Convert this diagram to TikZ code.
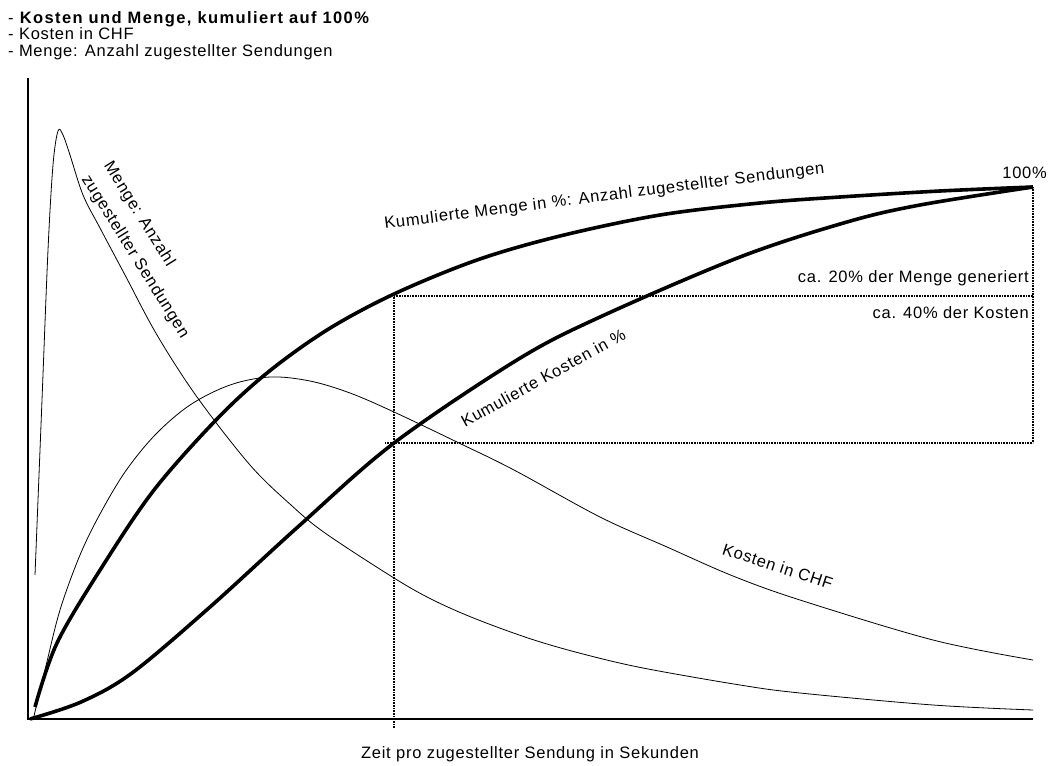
\documentclass[tikz,border=0pt]{standalone}
\usepackage{fontspec}
\setmainfont[LetterSpace=4.5,BoldFeatures={LetterSpace=8.5}]{Liberation Sans}
\begin{document}
\begin{tikzpicture}[x=1pt, y=-1pt,
    every node/.style={font=\fontsize{16.5}{19}\selectfont, inner sep=0pt},
    axis/.style={line width=1.1pt},
    cumcurve/.style={line width=3.6pt, line join=round, smooth, tension=0.55},
    rawcurve/.style={line width=0.8pt, line join=round, smooth, tension=0.55},
    guide/.style={line width=1.6pt, dash pattern=on 0.8pt off 0.8pt}]

\useasboundingbox (0,0) rectangle (1048,765);

\node[anchor=base west] (ttl)  at (8,24) {- \textbf{Kosten und Menge, kumuliert auf 100\%}};
\node[anchor=base west] (sub1) at (8,40) {- Kosten in CHF};
\node[anchor=base west] (sub2) at (8,57) {- Menge: Anzahl zugestellter Sendungen};

\coordinate (O)    at (28,719);
\coordinate (ytop) at (28,78);
\coordinate (xend) at (1033,719);
\coordinate (top)  at (1033,187);
\coordinate (m20)  at (394,296);
\coordinate (m20r) at (1033,296);
\coordinate (k40l) at (385,443);
\coordinate (k40r) at (1033,443);
\coordinate (tick) at (394,728);

\draw[axis] (ytop) -- (O) -- (xend);

\draw[guide] (tick) -- (m20) -- (m20r);
\draw[guide] (k40l) -- (k40r);
\draw[guide] (top) -- (k40r);

% Menge
\draw[rawcurve] plot coordinates {(35,575) (42,400) (48,250) (53,165) (58,131) (63,135)
    (70,155) (83,195) (100,228) (125,275) (157,335) (197,397) (250,465) (291,505)
    (325,533) (394,578) (433,600) (476,619) (531,639) (583,654) (643,668) (740,685)
    (800,693) (933,705) (1033,710)};
% Kosten
\draw[rawcurve] plot coordinates {(34,716) (45,670) (60,610) (80,555) (100,514) (125,472)
    (155,435) (190,405) (230,385) (270,377) (310,381) (350,393) (394,412) (459,443)
    (514,470) (600,517) (667,547) (733,576) (800,600) (933,640) (1033,660)};
% kumuliert
\draw[cumcurve] plot coordinates {(35,707) (57,643) (102,567) (154,490) (216,420) (267,373)
    (327,330) (394,294) (477,260) (560,236) (660,215) (760,203) (840,197) (940,191) (1033,187)};
\draw[cumcurve] plot coordinates {(30,719) (81,702) (132,673) (210,607) (300,525) (394,443)
    (517,360) (600,317) (740,257) (847,222) (920,205) (1033,187)};

\node[rotate=-58, align=left] (mengelbl) at (146,250) {Menge: Anzahl\\[7pt]zugestellter Sendungen};
\node[rotate=7.2, anchor=base] (kummenge) at (605,201) {Kumulierte Menge in \%: Anzahl zugestellter Sendungen};
\node[rotate=28.8, anchor=base] (kumkosten) at (546,383) {Kumulierte Kosten in \%};
\node[rotate=-18, anchor=base] (kostenlbl) at (776,572) {Kosten in CHF};
\node[anchor=base east] (hundert) at (1047,178) {100\%};
\node[anchor=base east] (m20lbl) at (1029,282) {ca. 20\% der Menge generiert};
\node[anchor=base east] (k40lbl) at (1029,318) {ca. 40\% der Kosten};
\node[anchor=base] (xlbl) at (530,758) {Zeit pro zugestellter Sendung in Sekunden};

\end{tikzpicture}
\end{document}
